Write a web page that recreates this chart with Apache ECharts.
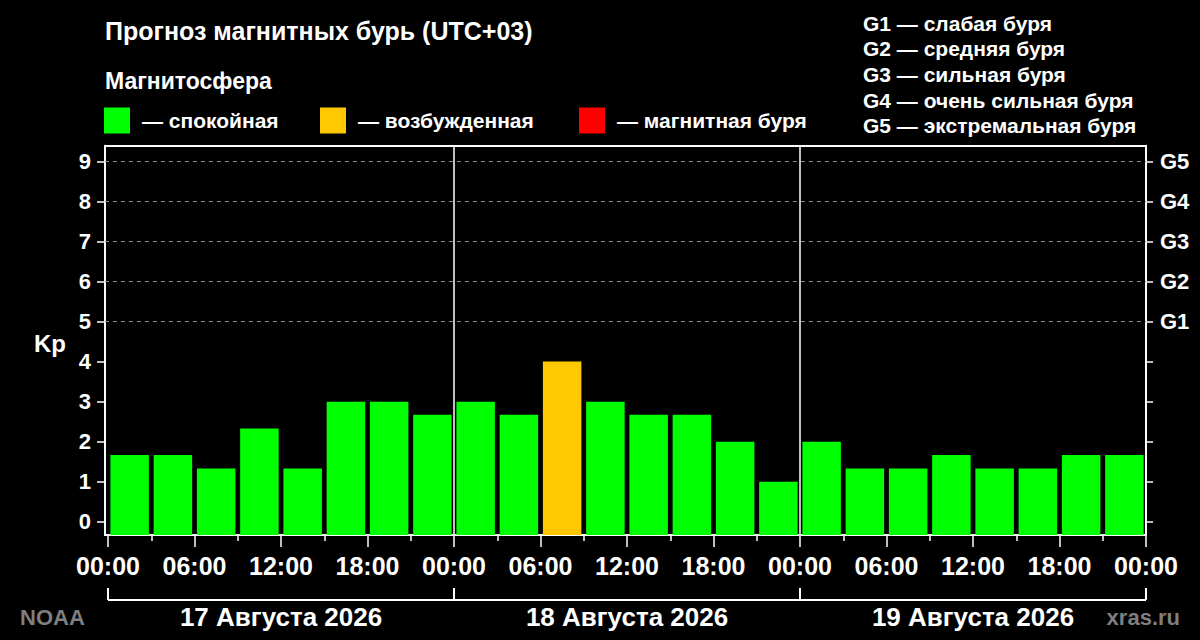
<!DOCTYPE html>
<html><head><meta charset="utf-8">
<script src="https://cdn.jsdelivr.net/npm/echarts@6/dist/echarts.min.js"></script>
<style>html,body{margin:0;padding:0;background:#000}#c{width:1200px;height:640px}</style>
</head><body><div id="c"></div>
<script>
// ---- data ----
const kpValues = [1.67, 1.67, 1.33, 2.33, 1.33, 3, 3, 2.67,
                  3, 2.67, 4, 3, 2.67, 2.67, 2, 1,
                  2, 1.33, 1.33, 1.67, 1.33, 1.33, 1.67, 1.67];
const slotHours = 3;
const dayLabels = ['17 Августа 2026', '18 Августа 2026', '19 Августа 2026'];
const kpTicks = [0, 1, 2, 3, 4, 5, 6, 7, 8, 9];
const stormLevels = [5, 6, 7, 8, 9];
const stormNames = ['G1', 'G2', 'G3', 'G4', 'G5'];
const hourTicks = [0, 6, 12, 18, 24, 30, 36, 42, 48, 54, 60, 66, 72];
const minorHourTicks = [3, 9, 15, 21, 27, 33, 39, 45, 51, 57, 63, 69];
const legendItems = ['— спокойная', '— возбужденная', '— магнитная буря'];
const stormLegend = ['G1 — слабая буря', 'G2 — средняя буря', 'G3 — сильная буря', 'G4 — очень сильная буря', 'G5 — экстремальная буря'];
const colors = {quiet: '#00ff00', active: '#ffc800', storm: '#ff0000'};

const FONT = '"Liberation Sans", Arial, sans-serif';
const Y_MIN = -0.33, Y_MAX = 9.39, X_MIN = -0.21, X_MAX = 72;

function kpColor(v) { return v >= 5 ? colors.storm : (v >= 4 ? colors.active : colors.quiet); }

const barData = kpValues.map((v, i) => [i * slotHours + slotHours / 2, v]);

const chart = echarts.init(document.getElementById('c'), null, {renderer: 'svg'});

const graphics = [];
graphics.push({type: 'text', x: 105, y: 31, style: {text: 'Прогноз магнитных бурь (UTC+03)', fill: '#fff', font: 'bold 25px ' + FONT, textVerticalAlign: 'middle'}});
graphics.push({type: 'text', x: 105, y: 81, style: {text: 'Магнитосфера', fill: '#fff', font: 'bold 23px ' + FONT, textVerticalAlign: 'middle'}});
const legX = [104, 320, 579];
const legColors = [colors.quiet, colors.active, colors.storm];
legendItems.forEach((t, i) => {
  graphics.push({type: 'rect', shape: {x: legX[i], y: 107.5, width: 26, height: 26}, style: {fill: legColors[i]}});
  graphics.push({type: 'text', x: legX[i] + 38, y: 120.5, style: {text: t, fill: '#fff', font: 'bold 21px ' + FONT, textVerticalAlign: 'middle'}});
});
stormLegend.forEach((t, i) => {
  graphics.push({type: 'text', x: 863, y: 23 + i * 25.7, style: {text: t, fill: '#fff', font: 'bold 21px ' + FONT, textVerticalAlign: 'middle'}});
});
graphics.push({type: 'text', x: 20, y: 617, style: {text: 'NOAA', fill: '#7f7f7f', font: 'bold 22px ' + FONT, textVerticalAlign: 'middle'}});
graphics.push({type: 'text', x: 1180, y: 617, style: {text: 'xras.ru', fill: '#7f7f7f', font: 'bold 22px ' + FONT, textVerticalAlign: 'middle', textAlign: 'right'}});
graphics.push({type: 'text', x: 34, y: 343, style: {text: 'Kp', fill: '#fff', font: 'bold 24px ' + FONT, textVerticalAlign: 'middle'}});

const option = {
  backgroundColor: '#000',
  animation: false,
  grid: {left: 105, right: 54, top: 145.7, bottom: 105, containLabel: false},
  xAxis: [
    {type: 'value', position: 'bottom', min: X_MIN, max: X_MAX,
     axisLine: {show: true, onZero: false, lineStyle: {color: '#fff', width: 2}},
     axisTick: {show: true, length: 12, customValues: hourTicks, lineStyle: {color: '#fff', width: 1.5}},
     axisLabel: {show: true, customValues: hourTicks, margin: 18, color: '#fff', fontSize: 25, fontWeight: 'bold', fontFamily: FONT,
                 formatter: v => String(Math.round(v) % 24).padStart(2, '0') + ':00'},
     splitLine: {show: false}},
    {type: 'value', position: 'bottom', min: X_MIN, max: X_MAX,
     axisLine: {show: false, onZero: false},
     axisTick: {show: true, length: 6, customValues: minorHourTicks, lineStyle: {color: '#fff', width: 1.5}},
     axisLabel: {show: false}, splitLine: {show: false}},
    {type: 'value', position: 'top', min: X_MIN, max: X_MAX,
     axisLine: {show: true, onZero: false, lineStyle: {color: '#fff', width: 2}},
     axisTick: {show: false}, axisLabel: {show: false}, splitLine: {show: false}}
  ],
  yAxis: [
    {type: 'value', position: 'left', min: Y_MIN, max: Y_MAX,
     axisLine: {show: true, onZero: false, lineStyle: {color: '#fff', width: 2}},
     axisTick: {show: true, length: 8, customValues: kpTicks, lineStyle: {color: '#fff', width: 1.5}},
     axisLabel: {show: true, customValues: kpTicks, margin: 14, color: '#fff', fontSize: 22, fontWeight: 'bold', fontFamily: FONT},
     splitLine: {show: false}},
    {type: 'value', position: 'right', min: Y_MIN, max: Y_MAX,
     axisLine: {show: true, onZero: false, lineStyle: {color: '#fff', width: 2}},
     axisTick: {show: true, length: 7, customValues: kpTicks, lineStyle: {color: '#fff', width: 1.5}},
     axisLabel: {show: true, customValues: stormLevels, margin: 14, color: '#fff', fontSize: 22, fontWeight: 'bold', fontFamily: FONT,
                 formatter: v => stormNames[stormLevels.indexOf(Math.round(v))] || ''},
     splitLine: {show: false}}
  ],
  graphic: graphics,
  series: [
    {type: 'custom', xAxisIndex: 0, yAxisIndex: 0, data: barData, clip: true, z: 3,
     renderItem: (params, api) => {
       const x = api.value(0), v = api.value(1);
       const top = api.coord([x, v]);
       const bottom = api.coord([x, Y_MIN]);
       const w = api.size([slotHours, 0])[0] * 0.89;
       return {type: 'rect', shape: {x: top[0] - w / 2, y: top[1], width: w, height: bottom[1] - top[1]},
               style: {fill: kpColor(v)}};
     }},
    {type: 'line', xAxisIndex: 0, yAxisIndex: 0, data: [], z: 2,
     markLine: {silent: true, symbol: ['none', 'none'], label: {show: false},
       lineStyle: {color: '#8c8c8c', width: 1, type: [4, 4]},
       data: stormLevels.map(l => ({yAxis: l}))}},
    {type: 'line', xAxisIndex: 0, yAxisIndex: 0, data: [], z: 4,
     markLine: {silent: true, symbol: ['none', 'none'], label: {show: false},
       lineStyle: {color: '#fff', width: 1.5, type: 'solid'},
       data: [{xAxis: 24}, {xAxis: 48}]}}
  ]
};
chart.setOption(option);

// day brackets and labels below the axis, positioned through the axis scale
function drawDays() {
  const g = [];
  dayLabels.forEach((lbl, d) => {
    const x0 = chart.convertToPixel({xAxisIndex: 0}, d * 24);
    const x1 = chart.convertToPixel({xAxisIndex: 0}, (d + 1) * 24);
    const xm = chart.convertToPixel({xAxisIndex: 0}, d * 24 + 12);
    g.push({type: 'line', shape: {x1: x0, y1: 600, x2: x1, y2: 600}, style: {stroke: '#fff', lineWidth: 2}});
    g.push({type: 'line', shape: {x1: x0, y1: 588, x2: x0, y2: 600}, style: {stroke: '#fff', lineWidth: 2}});
    g.push({type: 'line', shape: {x1: x1, y1: 588, x2: x1, y2: 600}, style: {stroke: '#fff', lineWidth: 2}});
    g.push({type: 'text', x: xm, y: 617, style: {text: lbl, fill: '#fff', font: 'bold 26px ' + FONT, textAlign: 'center', textVerticalAlign: 'middle'}});
  });
  chart.setOption({graphic: graphics.concat(g)});
}
drawDays();
</script></body></html>
